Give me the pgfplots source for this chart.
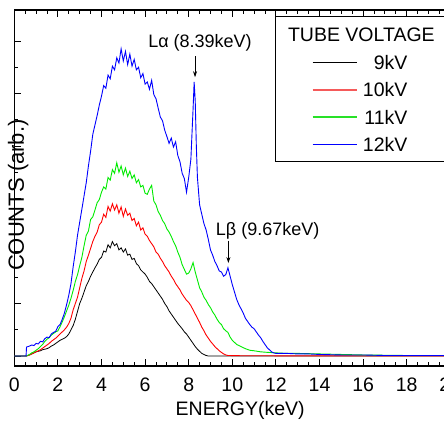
\documentclass[border=0pt]{standalone}
\usepackage{fontspec}
\setmainfont{Liberation Sans}
\usepackage{pgfplots}
\pgfplotsset{compat=1.18}
\usetikzlibrary{arrows.meta}

\pgfplotstableread{
E y
0 0
0.54 0
0.56 0.17
0.7 0.19
0.8 0.21
0.9 0.20
1.0 0.24
1.1 0.23
1.2 0.28
1.3 0.27
1.4 0.33
1.5 0.36
1.6 0.35
1.7 0.42
1.8 0.45
1.9 0.47
2.0 0.56
2.1 0.60
2.2 0.70
2.3 0.82
2.4 0.98
2.5 1.16
2.6 1.38
2.7 1.70
2.8 1.98
2.9 2.30
3.0 2.55
3.1 2.80
3.2 3.05
3.3 3.30
3.4 3.62
3.5 3.90
3.6 4.22
3.7 4.40
3.8 4.58
3.9 4.78
4.0 4.95
4.1 5.15
4.2 5.10
4.3 5.35
4.4 5.28
4.5 5.52
4.6 5.45
4.7 5.68
4.8 5.58
4.9 5.85
5.0 5.62
5.1 5.80
5.2 5.55
5.3 5.75
5.4 5.52
5.5 5.65
5.6 5.45
5.7 5.50
5.8 5.30
5.9 5.38
6.0 5.18
6.1 5.22
6.2 5.08
6.3 5.25
6.4 4.98
6.5 4.90
6.6 4.72
6.7 4.55
6.8 4.48
6.9 4.30
7.0 4.18
7.1 4.05
7.2 4.15
7.3 3.98
7.4 4.08
7.5 3.82
7.6 3.70
7.7 3.48
7.8 3.38
7.9 3.12
8.0 3.40
8.1 3.75
8.2 4.70
8.25 5.22
8.3 4.85
8.35 4.00
8.4 3.40
8.5 2.88
8.6 2.70
8.7 2.52
8.8 2.40
8.9 2.22
9.0 2.02
9.1 1.92
9.2 1.80
9.3 1.72
9.4 1.62
9.5 1.60
9.6 1.52
9.7 1.55
9.8 1.68
9.9 1.52
10.0 1.36
10.1 1.22
10.2 1.08
10.3 0.98
10.4 0.90
10.5 0.82
10.6 0.72
10.7 0.66
10.8 0.60
10.9 0.55
11.0 0.52
11.1 0.46
11.2 0.40
11.3 0.35
11.4 0.28
11.5 0.22
11.6 0.16
11.7 0.12
11.8 0.08
11.9 0.06
12.0 0.05
12.5 0.05
13 0.04
13.5 0.04
14 0.03
15 0.02
16 0.02
17 0.01
18 0.01
20 0.01
}\twelve

\pgfplotstableread{
E y
0 0
0.55 0
0.7 0.03
0.8 0.06
0.9 0.08
1.0 0.11
1.1 0.14
1.2 0.18
1.3 0.22
1.4 0.28
1.5 0.32
1.6 0.35
1.7 0.40
1.8 0.43
1.9 0.46
2.0 0.48
2.1 0.56
2.2 0.65
2.3 0.75
2.4 0.86
2.5 0.97
2.6 1.10
2.7 1.25
2.8 1.42
2.9 1.55
3.0 1.72
3.1 1.88
3.2 2.10
3.3 2.30
3.4 2.38
3.5 2.60
3.6 2.65
3.7 2.78
3.8 2.92
3.9 2.98
4.0 3.12
4.1 3.22
4.2 3.18
4.3 3.40
4.4 3.35
4.5 3.55
4.6 3.48
4.7 3.68
4.8 3.50
4.9 3.62
5.0 3.45
5.1 3.58
5.2 3.42
5.3 3.52
5.4 3.38
5.5 3.45
5.6 3.30
5.7 3.36
5.8 3.22
5.9 3.25
6.0 3.10
6.1 3.08
6.2 3.18
6.3 3.25
6.4 2.95
6.5 2.88
6.6 2.75
6.7 2.68
6.8 2.58
6.9 2.52
7.0 2.42
7.1 2.36
7.2 2.28
7.3 2.18
7.4 2.10
7.5 1.98
7.6 1.88
7.7 1.74
7.8 1.65
7.9 1.56
8.0 1.58
8.1 1.66
8.2 1.78
8.3 1.60
8.4 1.45
8.5 1.30
8.6 1.22
8.7 1.12
8.8 1.06
8.9 0.98
9.0 0.92
9.1 0.84
9.2 0.78
9.3 0.70
9.4 0.64
9.5 0.60
9.6 0.52
9.7 0.48
9.8 0.45
9.9 0.36
10.0 0.30
10.1 0.26
10.2 0.22
10.4 0.18
10.6 0.14
10.8 0.11
11.0 0.10
11.3 0.08
11.6 0.07
12 0.06
12.5 0.05
13 0.05
14 0.04
15 0.03
16 0.02
18 0.01
20 0.01
}\eleven

\pgfplotstableread{
E y
0 0
0.55 0
0.7 0.02
0.8 0.04
0.9 0.06
1.0 0.08
1.1 0.10
1.2 0.12
1.3 0.15
1.4 0.18
1.5 0.21
1.6 0.24
1.7 0.28
1.8 0.31
1.9 0.34
2.0 0.38
2.1 0.42
2.2 0.46
2.3 0.50
2.4 0.55
2.5 0.62
2.6 0.72
2.7 0.88
2.8 1.00
2.9 1.12
3.0 1.30
3.1 1.48
3.2 1.62
3.3 1.80
3.4 1.92
3.5 2.05
3.6 2.18
3.7 2.28
3.8 2.36
3.9 2.50
4.0 2.55
4.1 2.70
4.2 2.64
4.3 2.85
4.4 2.76
4.5 2.90
4.6 2.78
4.7 2.88
4.8 2.72
4.9 2.84
5.0 2.66
5.1 2.80
5.2 2.68
5.3 2.72
5.4 2.58
5.5 2.62
5.6 2.48
5.7 2.55
5.8 2.40
5.9 2.44
6.0 2.32
6.1 2.28
6.2 2.20
6.3 2.14
6.4 2.08
6.5 1.98
6.6 1.94
6.7 1.86
6.8 1.80
6.9 1.72
7.0 1.66
7.1 1.60
7.2 1.52
7.3 1.46
7.4 1.38
7.5 1.32
7.6 1.26
7.7 1.18
7.8 1.12
7.9 1.06
8.0 1.02
8.1 0.96
8.2 0.88
8.3 0.80
8.4 0.72
8.5 0.64
8.6 0.55
8.7 0.48
8.8 0.40
8.9 0.34
9.0 0.28
9.1 0.23
9.2 0.18
9.3 0.14
9.4 0.10
9.5 0.07
9.6 0.04
9.7 0.02
9.8 0.01
10.5 0.005
20 0
}\ten

\pgfplotstableread{
E y
0 0
0.55 0
0.7 0.02
0.8 0.04
0.9 0.06
1.0 0.08
1.1 0.09
1.2 0.10
1.3 0.12
1.4 0.13
1.5 0.14
1.6 0.16
1.7 0.19
1.8 0.21
1.9 0.24
2.0 0.27
2.1 0.30
2.2 0.32
2.3 0.34
2.4 0.37
2.5 0.42
2.6 0.50
2.7 0.58
2.8 0.70
2.9 0.85
3.0 1.00
3.1 1.10
3.2 1.22
3.3 1.34
3.4 1.42
3.5 1.52
3.6 1.60
3.7 1.68
3.8 1.75
3.9 1.84
4.0 1.88
4.1 2.00
4.2 1.98
4.3 2.12
4.4 2.06
4.5 2.18
4.6 2.10
4.7 2.14
4.8 2.02
4.9 2.06
5.0 1.98
5.1 2.04
5.2 1.92
5.3 1.94
5.4 1.84
5.5 1.86
5.6 1.76
5.7 1.72
5.8 1.64
5.9 1.60
6.0 1.56
6.1 1.50
6.2 1.42
6.3 1.38
6.4 1.32
6.5 1.26
6.6 1.20
6.7 1.14
6.8 1.08
6.9 1.00
7.0 0.94
7.1 0.86
7.2 0.80
7.3 0.74
7.4 0.68
7.5 0.62
7.6 0.57
7.7 0.52
7.8 0.46
7.9 0.42
8.0 0.36
8.1 0.30
8.2 0.24
8.3 0.18
8.4 0.13
8.5 0.09
8.6 0.05
8.7 0.03
8.8 0.01
8.9 0
20 0
}\nine

\definecolor{lgreen}{RGB}{0,235,0}
\definecolor{legred}{RGB}{245,90,90}
\definecolor{leggrn}{RGB}{40,225,40}

\begin{document}
\begin{tikzpicture}
\begin{axis}[
  at={(14.3pt,54pt)}, anchor=south west,
  scale only axis, width=436pt, height=356pt,
  xmin=0, xmax=20, ymin=-0.19, ymax=6.59,
  xtick={0,2,...,20}, minor x tick num=3,
  ytick={0,1,...,6}, minor y tick num=1, yticklabels={},
  xtick pos=both, ytick pos=left,
  tick align=inside,
  major tick length=7pt, minor tick length=4pt,
  axis line style={black, line width=1.3pt},
  tick style={black, line width=0.9pt},
  /pgf/number format/assume math mode=true,
  xticklabel style={font=\fontsize{19.5}{19.5}\selectfont, anchor=base, yshift=-26pt},
  xlabel={ENERGY(keV)},
  xlabel style={at={(axis description cs:0.518,0)}, anchor=base, yshift=-49pt,
    font=\fontsize{19.5}{19.5}\selectfont},
  ylabel={COUNTS (arb.)},
  ylabel style={at={(axis description cs:0.009,0.48)}, anchor=center,
    font=\fontsize{22}{22}\selectfont},
  clip=false,
]
\addplot[black, line width=0.8pt] table[x=E,y=y] {\nine};
\addplot[red, line width=0.9pt] table[x=E,y=y] {\ten};
\addplot[lgreen, line width=0.9pt] table[x=E,y=y] {\eleven};
\addplot[blue, line width=0.9pt] table[x=E,y=y] {\twelve};

% legend box
\draw[line width=1pt] (axis cs:12.0,6.457) rectangle (axis cs:21,3.70);
\node[font=\fontsize{19.5}{19.5}\selectfont] at (axis cs:15.92,6.11) {TUBE VOLTAGE};
\draw[black, line width=0.8pt] (axis cs:13.69,5.587) -- (axis cs:15.71,5.587);
\draw[legred, line width=1.4pt] (axis cs:13.69,5.067) -- (axis cs:15.71,5.067);
\draw[leggrn, line width=1.7pt] (axis cs:13.69,4.555) -- (axis cs:15.71,4.555);
\draw[blue, line width=0.9pt] (axis cs:13.69,4.033) -- (axis cs:15.71,4.033);
\begin{scope}[every node/.style={anchor=east, inner sep=0pt, font=\fontsize{19.5}{19.5}\selectfont}]
\node at (axis cs:18.04,5.587) {9kV};
\node at (axis cs:18.04,5.067) {10kV};
\node at (axis cs:18.04,4.547) {11kV};
\node at (axis cs:18.04,4.033) {12kV};
\end{scope}

\node[anchor=base, font=\fontsize{18}{18}\selectfont] at (axis cs:8.52,5.87) {Lα (8.39keV)};
\draw[-{Stealth[length=6pt,width=4pt]}, line width=0.8pt] (axis cs:8.29,5.71) -- (axis cs:8.29,5.31);
\node[anchor=base, font=\fontsize{18}{18}\selectfont] at (axis cs:11.62,2.29) {Lβ (9.67keV)};
\draw[-{Stealth[length=6pt,width=4pt]}, line width=0.8pt] (axis cs:9.82,2.20) -- (axis cs:9.82,1.77);
\end{axis}
\pgfresetboundingbox
\path[use as bounding box] (0,0) rectangle (444pt,420pt);
\end{tikzpicture}
\end{document}
